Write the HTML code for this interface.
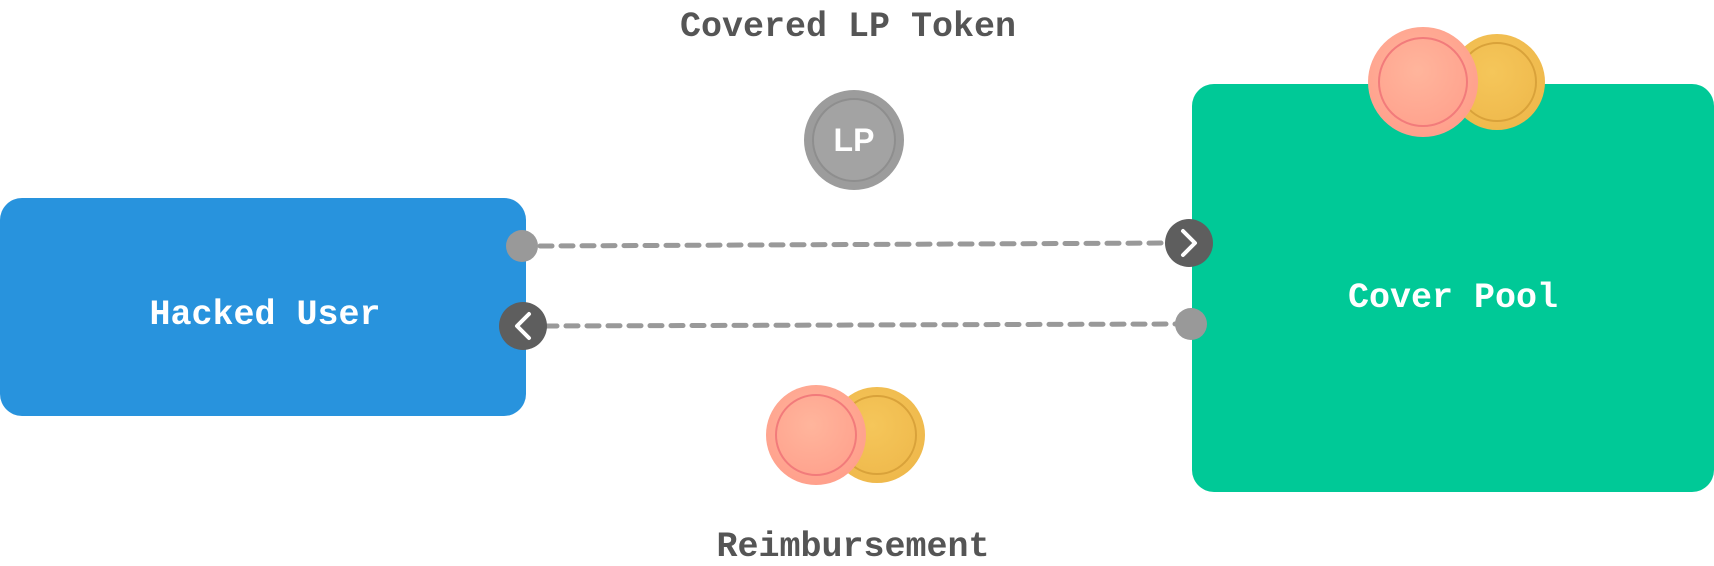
<!DOCTYPE html>
<html><head><meta charset="utf-8"><style>
html,body{margin:0;padding:0;background:#fff;}
body{width:1714px;height:566px;position:relative;overflow:hidden;font-family:"Liberation Mono",monospace;}
</style></head><body>
<svg width="1714" height="566" viewBox="0 0 1714 566" xmlns="http://www.w3.org/2000/svg" style="position:absolute;left:0;top:0">
<defs>
<radialGradient id="pk" cx="45%" cy="40%" r="60%"><stop offset="0" stop-color="#ffb59c"/><stop offset="1" stop-color="#ffa08c"/></radialGradient>
<radialGradient id="gd" cx="45%" cy="40%" r="60%"><stop offset="0" stop-color="#f5c65a"/><stop offset="1" stop-color="#efb94c"/></radialGradient>
</defs>
<rect x="0" y="198" width="526" height="218" rx="22" fill="#2893dd"/>
<rect x="1192" y="84" width="522" height="408" rx="22" fill="#00c997"/>
<g stroke="#999" stroke-width="5" stroke-linecap="round" stroke-dasharray="12 9" fill="none">
<line x1="540" y1="246" x2="1170" y2="243"/>
<line x1="545" y1="326" x2="1175" y2="324"/>
</g>
<circle cx="522" cy="246" r="16" fill="#999"/>
<circle cx="1191" cy="324" r="16" fill="#999"/>
<circle cx="1189" cy="243" r="24" fill="#5e5e5e"/>
<polyline points="1183,231 1195,243 1183,255" stroke="#fff" stroke-width="4" fill="none" stroke-linecap="round" stroke-linejoin="round"/>
<circle cx="523" cy="326" r="24" fill="#5e5e5e"/>
<polyline points="529,314 517,326 529,338" stroke="#fff" stroke-width="4" fill="none" stroke-linecap="round" stroke-linejoin="round"/>
<circle cx="854" cy="140" r="50" fill="#9c9c9c"/>
<circle cx="854" cy="140" r="41" fill="#a3a3a3" stroke="#8e8e8e" stroke-width="2"/>
<text x="854" y="151" font-family="Liberation Sans,sans-serif" font-weight="bold" font-size="32" fill="#fff" text-anchor="middle">LP</text>
<circle cx="1497" cy="82" r="48" fill="url(#gd)"/><circle cx="1497" cy="82" r="39" fill="none" stroke="#d9a23a" stroke-width="2"/>
<circle cx="1423" cy="82" r="55" fill="url(#pk)"/><circle cx="1423" cy="82" r="44" fill="none" stroke="#f27b7b" stroke-width="2"/>
<circle cx="877" cy="435" r="48" fill="url(#gd)"/><circle cx="877" cy="435" r="39" fill="none" stroke="#d9a23a" stroke-width="2"/>
<circle cx="816" cy="435" r="50" fill="url(#pk)"/><circle cx="816" cy="435" r="40" fill="none" stroke="#f27b7b" stroke-width="2"/>
<g font-family="Liberation Mono,monospace" font-weight="bold" font-size="35" text-anchor="middle">
<text x="848" y="36" fill="#555">Covered LP Token</text>
<text x="853" y="556" fill="#555">Reimbursement</text>
<text x="265" y="324" fill="#fff">Hacked User</text>
<text x="1453" y="307" fill="#fff">Cover Pool</text>
</g>
</svg>
</body></html>
